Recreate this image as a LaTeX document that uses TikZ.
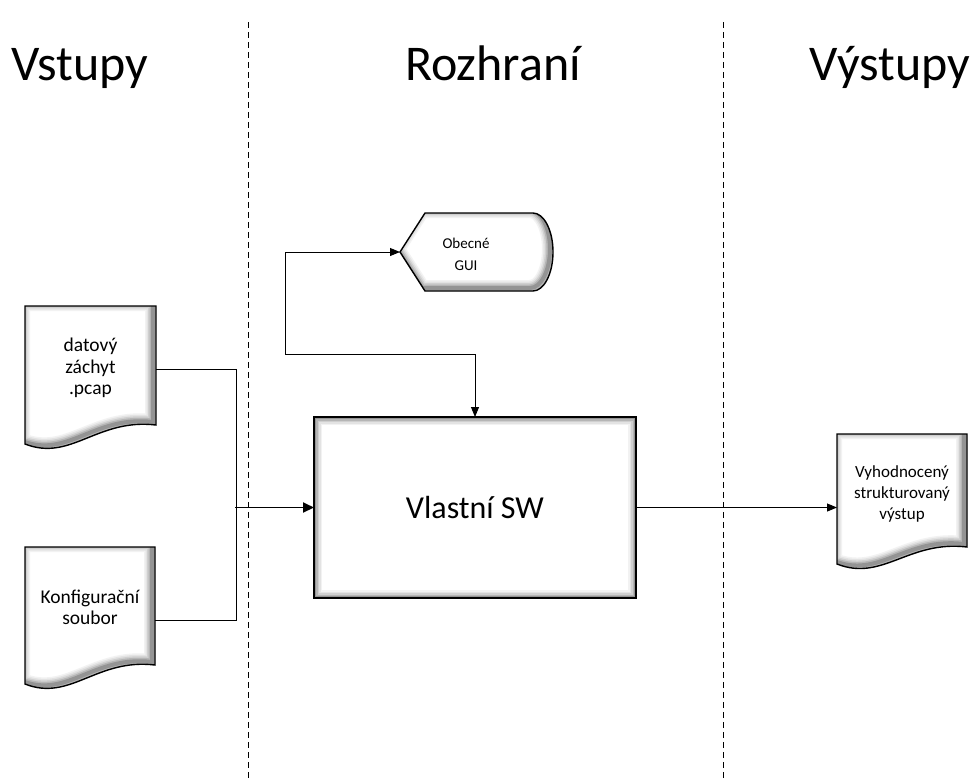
\documentclass[tikz,border=0pt]{standalone}
\usepackage{fontspec}
\setmainfont{Carlito}
\usetikzlibrary{arrows.meta,calc}

% white shape with a soft bevel (darker towards the lower right), black outline
\newcommand{\bevelshape}[1]{%
  \begin{scope}
    \clip #1;
    \fill[white] #1;
    \foreach \w/\c in {16/5,13/11,10/19,7/29,4/42}
      \draw[line width=\w pt, black!\c, shift={(-3,-3)}] #1;
  \end{scope}
  \draw[line width=1.4pt, line join=miter] #1;}

\tikzset{
  anchorbox/.style={inner sep=0pt, outer sep=0pt, draw=none},
  title/.style={font=\fontsize{50}{60}\selectfont, anchor=base, inner sep=0pt},
  doctext/.style={font=\fontsize{19.5}{21.5}\selectfont, align=center, inner sep=0pt},
  outtext/.style={font=\fontsize{17}{21}\selectfont, align=center, inner sep=0pt},
  guitext/.style={font=\fontsize{15}{22}\selectfont, align=center, inner sep=0pt},
  swtext/.style={font=\fontsize{32}{38}\selectfont, inner sep=0pt},
  divider/.style={line width=0.8pt, dash pattern=on 6pt off 4pt},
  wire/.style={line width=0.9pt},
  arr/.style={wire, -{Triangle[length=10pt,width=8pt]}},
  bigarr/.style={line width=1.9pt, -{Triangle[length=11pt,width=10pt]}},
  biarr/.style={wire, {Triangle[length=10pt,width=8pt]}-{Triangle[length=10pt,width=8pt]}},
}

\begin{document}
\begin{tikzpicture}[x=1pt,y=-1pt]
\useasboundingbox (0,0) rectangle (976,780);

% lane dividers
\draw[divider] (248,22) -- (248,778);
\draw[divider] (723,22) -- (723,778);

% lane headings
\node[title] (hin)  at (80,80)  {Vstupy};
\node[title] (hmid) at (493,80) {Rozhraní};
\node[title] (hout) at (890,80) {Výstupy};

% connection frames of the shapes
\node[anchorbox, minimum width=131pt, minimum height=126pt] (pcap) at (90.5,369) {};
\node[anchorbox, minimum width=130pt, minimum height=146pt] (konf) at (90,620) {};
\node[anchorbox, minimum width=130pt, minimum height=147pt] (out)  at (902,507.5) {};
\node[anchorbox, minimum width=322pt, minimum height=181pt] (sw)   at (475,507.5) {};
\node[anchorbox, minimum width=153pt, minimum height=78pt]  (gui)  at (476.5,252) {};

% document shapes
\bevelshape{(25,306) -- (156,306) -- (156,425) .. controls (97,418) and (71,462) .. (25,444) -- cycle}
\bevelshape{(25,547) -- (155,547) -- (155,665) .. controls (96.5,658) and (70.5,702) .. (25,684) -- cycle}
\bevelshape{(837,434) -- (967,434) -- (967,547) .. controls (908.5,540) and (882.5,582) .. (837,564) -- cycle}

% display shape
\bevelshape{(400,252) -- (425,213) -- (533,213) .. controls (544,213) and (553,230.5) .. (553,252)
  .. controls (553,273.5) and (544,291) .. (533,291) -- (425,291) -- cycle}

% process box
\bevelshape{(sw.north west) rectangle (sw.south east)}

% texts
\node[doctext] (pcaptxt) at (90.5,368) {datový\\záchyt\\.pcap};
\node[doctext] (konftxt) at (90,607.5) {Konfigurační\\soubor};
\node[outtext] (outtxt)  at (902,494)  {Vyhodnocený\\strukturovaný\\výstup};
\node[guitext] (guitxt)  at (466,254)  {Obecné\\GUI};
\node[swtext]  (swtxt)   at (sw.center) {Vlastní SW};

% connectors
\coordinate (join) at (236,507.5);
\coordinate (guiturn) at (285,354);
\draw[wire] (pcap.east) -| (join);
\draw[wire] (konf.east) -| (join);
\draw[bigarr] ([xshift=-1pt]join) -- (sw.west);
\draw[biarr] (gui.west) -| (guiturn) -| (sw.north);
\draw[arr] (sw.east) -- (out.west);
\end{tikzpicture}
\end{document}
